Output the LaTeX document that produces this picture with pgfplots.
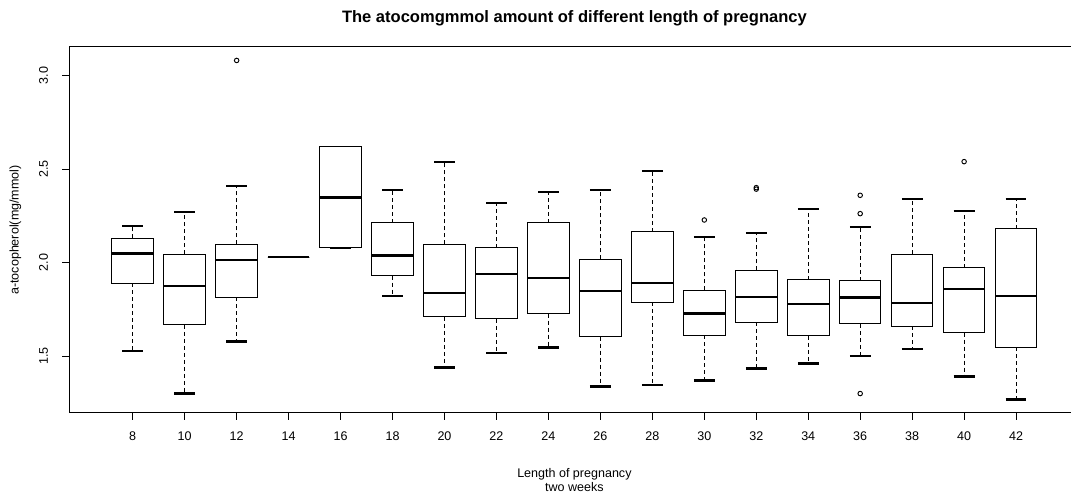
\documentclass[border=0pt]{standalone}
\usepackage{fontspec}
\setmainfont{Liberation Sans}
\usepackage{pgfplots}
\pgfplotsset{compat=1.18}
\usepgfplotslibrary{statistics}

% R-style box plot: thin box, heavy median, dashed whisker stems, heavy staples
\tikzset{
  rstem/.style={line width=0.75pt, dash pattern=on 3pt off 2.25pt},
  rcap/.style={line width=1.6pt, solid},
}
\pgfplotsset{
  boxplot/draw/whisker/.code 2 args={%
    \draw[rstem] (boxplot cs:#1) -- (boxplot cs:#2);
    \draw[rcap] (boxplot whisker cs:#2,0) -- (boxplot whisker cs:#2,1);
  },
  rbox/.style={
    black, solid, mark=o, mark size=1.7pt,
    mark options={line width=0.7pt, solid},
    boxplot prepared={#1, draw direction=y, box extend=0.8, whisker extend=0.4},
    boxplot/every box/.style={fill=white, line width=0.75pt},
    boxplot/every median/.style={line width=1.9pt},
  },
}

\begin{document}
\begin{tikzpicture}
\begin{axis}[
  name=ax,
  scale only axis,
  width=757.6pt, height=274.5pt,
  xmin=-0.22, xmax=19.22,
  ymin=1.196, ymax=3.153,
  xtick={1,2,3,4,5,6,7,8,9,10,11,12,13,14,15,16,17,18},
  xticklabels={8,10,12,14,16,18,20,22,24,26,28,30,32,34,36,38,40,42},
  ytick={1.5,2.0,2.5,3.0},
  yticklabels={1.5,2.0,2.5,3.0},
  xtick pos=bottom, ytick pos=left,
  tick align=outside,
  major tick length=5.25pt,
  tick style={black, line width=0.6pt},
  axis line style={line width=0.75pt},
  tick label style={font=\fontsize{9.4}{11}\selectfont, inner sep=0pt},
  xticklabel style={anchor=north},
  xticklabel shift=8.5pt,
  yticklabel style={rotate=90, anchor=south},
  yticklabel shift=10.5pt,
  title={The atocomgmmol amount of different length of pregnancy},
  title style={at={(axis description cs:0.5,1)}, anchor=base, yshift=12pt,
    inner sep=0pt, font=\bfseries\fontsize{12.4}{14}\selectfont},
  xlabel={Length of pregnancy\\two weeks},
  xlabel style={at={(axis description cs:0.5,0)}, anchor=north, yshift=-41pt,
    inner sep=0pt, align=center, font=\fontsize{9.4}{11}\selectfont},
  ylabel={a-tocopherol(mg/mmol)},
  ylabel style={at={(axis description cs:0,0.5)}, anchor=center, yshift=40.5pt,
    inner sep=0pt, font=\fontsize{9.4}{11}\selectfont},
]
% week 8
\addplot[rbox={draw position=1, lower whisker=1.528, lower quartile=1.890, median=2.048, upper quartile=2.130, upper whisker=2.198}] coordinates {};
% week 10
\addplot[rbox={draw position=2, lower whisker=1.300, lower quartile=1.667, median=1.876, upper quartile=2.046, upper whisker=2.271}] coordinates {};
% week 12
\addplot[rbox={draw position=3, lower whisker=1.578, lower quartile=1.815, median=2.014, upper quartile=2.098, upper whisker=2.408}] table[row sep=\\, y index=0] {data\\ 3.081\\};
% week 14
\addplot[rbox={draw position=4, lower whisker=2.029, lower quartile=2.029, median=2.029, upper quartile=2.029, upper whisker=2.029}] coordinates {};
% week 16
\addplot[rbox={draw position=5, lower whisker=2.080, lower quartile=2.080, median=2.349, upper quartile=2.620, upper whisker=2.620}] coordinates {};
% week 18
\addplot[rbox={draw position=6, lower whisker=1.822, lower quartile=1.931, median=2.037, upper quartile=2.214, upper whisker=2.388}] coordinates {};
% week 20
\addplot[rbox={draw position=7, lower whisker=1.439, lower quartile=1.710, median=1.838, upper quartile=2.098, upper whisker=2.538}] coordinates {};
% week 22
\addplot[rbox={draw position=8, lower whisker=1.519, lower quartile=1.699, median=1.940, upper quartile=2.079, upper whisker=2.319}] coordinates {};
% week 24
\addplot[rbox={draw position=9, lower whisker=1.546, lower quartile=1.728, median=1.918, upper quartile=2.214, upper whisker=2.378}] coordinates {};
% week 26
\addplot[rbox={draw position=10, lower whisker=1.338, lower quartile=1.605, median=1.849, upper quartile=2.018, upper whisker=2.388}] coordinates {};
% week 28
\addplot[rbox={draw position=11, lower whisker=1.348, lower quartile=1.788, median=1.890, upper quartile=2.166, upper whisker=2.490}] coordinates {};
% week 30
\addplot[rbox={draw position=12, lower whisker=1.370, lower quartile=1.612, median=1.728, upper quartile=1.852, upper whisker=2.137}] table[row sep=\\, y index=0] {data\\ 2.228\\};
% week 32
\addplot[rbox={draw position=13, lower whisker=1.434, lower quartile=1.681, median=1.815, upper quartile=1.959, upper whisker=2.160}] table[row sep=\\, y index=0] {data\\ 2.393\\ 2.401\\};
% week 34
\addplot[rbox={draw position=14, lower whisker=1.461, lower quartile=1.608, median=1.779, upper quartile=1.909, upper whisker=2.287}] coordinates {};
% week 36
\addplot[rbox={draw position=15, lower whisker=1.503, lower quartile=1.673, median=1.813, upper quartile=1.904, upper whisker=2.192}] table[row sep=\\, y index=0] {data\\ 2.360\\ 2.262\\ 1.300\\};
% week 38
\addplot[rbox={draw position=16, lower whisker=1.539, lower quartile=1.660, median=1.783, upper quartile=2.046, upper whisker=2.339}] coordinates {};
% week 40
\addplot[rbox={draw position=17, lower whisker=1.391, lower quartile=1.626, median=1.860, upper quartile=1.973, upper whisker=2.278}] table[row sep=\\, y index=0] {data\\ 2.540\\};
% week 42
\addplot[rbox={draw position=18, lower whisker=1.268, lower quartile=1.548, median=1.822, upper quartile=2.182, upper whisker=2.339}] coordinates {};
\end{axis}
% page ends just short of the right frame line
\pgfresetboundingbox
\path[use as bounding box] ([xshift=-52pt,yshift=-61.5pt]ax.south west) rectangle ++(803.25pt,371.25pt);
\end{tikzpicture}
\end{document}
